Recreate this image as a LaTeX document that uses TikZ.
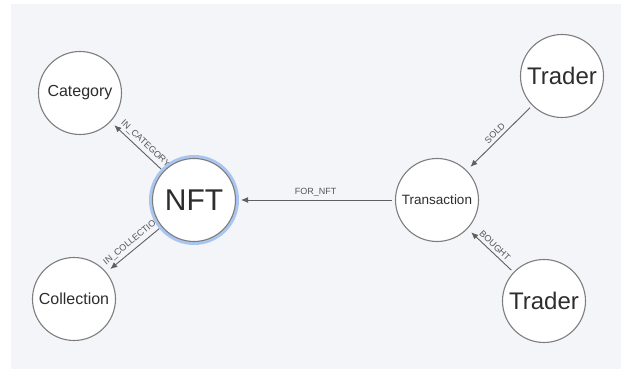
\documentclass[tikz,border=0pt]{standalone}
\usepackage{fontspec}
\setmainfont{Liberation Sans}
\usepackage{tikz}
\usetikzlibrary{positioning,arrows.meta,backgrounds}
\definecolor{bgpanel}{RGB}{244,245,249}
\definecolor{nodeline}{RGB}{125,125,125}
\definecolor{nodetext}{RGB}{45,45,45}
\definecolor{edgeline}{RGB}{95,95,95}
\definecolor{labeltext}{RGB}{85,85,85}
\definecolor{halo}{RGB}{170,197,240}
\tikzset{
  entity/.style={circle, draw=nodeline, fill=white, line width=1.1pt, minimum size=83pt, inner sep=0pt, text=nodetext},
  big/.style={font=\fontsize{30}{30}\selectfont},
  mid/.style={font=\fontsize{24}{24}\selectfont},
  small/.style={font=\fontsize{16}{16}\selectfont},
  tiny/.style={font=\fontsize{13.5}{13.5}\selectfont},
  selected/.style={preaction={draw=halo, line width=7pt}}, % glow round the chosen node
  rel/.style={-{Latex[length=7pt,width=6pt]}, draw=edgeline, line width=0.9pt, shorten >=5pt, shorten <=3pt},
  rellabel/.style={sloped, above, inner sep=3pt, text=labeltext, font=\fontsize{9}{9}\selectfont},
}

\begin{document}
\begin{tikzpicture}[on grid]
  \useasboundingbox (-194pt,200pt) rectangle (427pt,-169pt);

  \node[entity, selected, big] (nft) {NFT};
  \node[entity, small] (category) [above left=107pt and 114pt of nft] {Category};
  \node[entity, small] (collection) [below left=99pt and 120pt of nft] {Collection};
  \node[entity, tiny] (transaction) [right=243pt of nft] {Transaction};
  \node[entity, mid] (trader1) [above right=124pt and 125pt of transaction] {Trader};
  \node[entity, mid] (trader2) [below right=101pt and 107pt of transaction] {Trader};

  \begin{scope}[on background layer]
    \fill[bgpanel] (-183pt,196pt) rectangle (427pt,-169pt);
    % labels leaving NFT sit a bit nearer to it, so its circle hides their ends
    \draw[rel] (nft) -- (category) node[rellabel, pos=0.44] {IN\_CATEGORY};
    \draw[rel] (nft) -- (collection) node[rellabel, pos=0.44] {IN\_COLLECTION};
    \draw[rel] (transaction) -- (nft) node[rellabel, midway] {FOR\_NFT};
    \draw[rel] (trader1) -- (transaction) node[rellabel, midway] {SOLD};
    \draw[rel] (trader2) -- (transaction) node[rellabel, midway] {BOUGHT};
  \end{scope}

\end{tikzpicture}
\end{document}
